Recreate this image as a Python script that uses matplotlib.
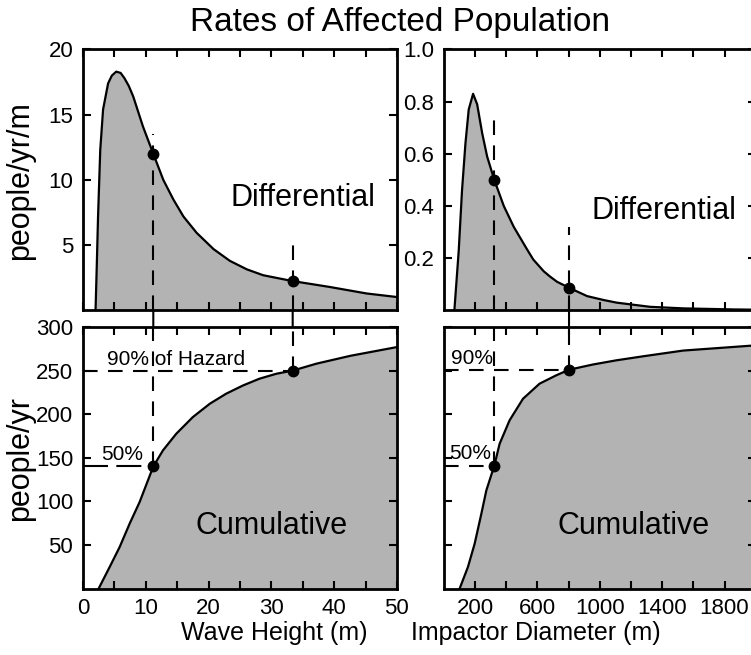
import matplotlib
matplotlib.use('Agg')
import matplotlib.pyplot as plt
from matplotlib.patches import ConnectionPatch

plt.rcParams['font.family'] = ['Liberation Sans', 'DejaVu Sans']

# wave height panel (left column)
wave_h = [2.0, 2.2, 2.4, 2.75, 3.2, 4.0, 4.6, 5.3, 6.0, 6.6, 7.3, 8.0, 9.55,
          11.2, 12.8, 14.4, 16.0, 18.1, 20.8, 23.4, 26.1, 28.7, 33.4, 36.7,
          39.3, 45.2, 50.0]
wave_diff = [0.0, 3.5, 7.2, 12.3, 15.4, 17.4, 18.0, 18.3, 18.2, 17.8, 17.2, 16.4, 14.1,
             12.0, 10.0, 8.5, 7.2, 5.95, 4.7, 3.8, 3.15, 2.7, 2.25, 2.0,
             1.8, 1.3, 1.03]
wave_cum_h = [2.5, 4.25, 5.84, 7.43, 9.02, 11.2, 12.74, 14.86, 17.5, 20.2, 22.8,
              25.5, 28.1, 30.8, 33.4, 37.2, 42.6, 50.0]
wave_cum = [0, 24.7, 47.6, 74.4, 99.2, 140, 158.5, 177.6, 196.7, 212, 223.5,
            233, 240.7, 246.4, 250, 258, 267, 277]
wave_marks = [11.2, 33.4]
wave_marks_diff = [12.0, 2.25]
wave_marks_cum = [140, 250]

# impactor diameter panel (right column)
imp_d = [68, 96, 117, 139, 160, 188, 214, 246, 278, 324, 385, 449, 534, 574, 641,
         681, 726, 803, 919, 1025, 1108, 1322, 1535, 1856, 2000]
imp_diff = [0, 0.23, 0.46, 0.64, 0.77, 0.83, 0.79, 0.68, 0.59, 0.50, 0.40, 0.32,
            0.234, 0.195, 0.15, 0.13, 0.11, 0.087, 0.055, 0.04, 0.03, 0.014,
            0.008, 0.004, 0.003]
imp_cum_d = [102, 155, 198, 241, 273, 324, 358, 422, 508, 614, 721, 803,
             956, 1106, 1277, 1535, 2000]
imp_cum = [0, 24.7, 51.4, 85.8, 112.6, 141, 166, 193, 217.7, 235, 244.6, 251,
           257, 261.8, 266.4, 273, 279]
imp_marks = [324, 803]
imp_marks_diff = [0.50, 0.087]
imp_marks_cum = [141, 251]

gray = '#b3b3b3'
dash = (7, 5)

fig = plt.figure(figsize=(7.51, 6.55), dpi=100)
ax_tl = fig.add_axes([0.1105, 0.5260, 0.4180, 0.3985])
ax_bl = fig.add_axes([0.1105, 0.1015, 0.4180, 0.3992])
ax_tr = fig.add_axes([0.5909, 0.5260, 0.4154, 0.3985])
ax_br = fig.add_axes([0.5909, 0.1015, 0.4154, 0.3992])


def style(ax):
    for s in ax.spines.values():
        s.set_linewidth(2)
    ax.tick_params(which='both', direction='in', top=True, right=True,
                   length=5.5, width=1.5, labelsize=16, pad=7)


def curve(ax, x, y):
    ax.fill_between(x, 0, y, color=gray, lw=0, zorder=1)
    ax.plot(x, y, color='k', lw=1.6, zorder=3, solid_joinstyle='round')


# top left
curve(ax_tl, wave_h, wave_diff)
ax_tl.plot([wave_marks[0]] * 2, [0, 13.5], color='k', lw=1.5, dashes=dash, zorder=2)
ax_tl.plot([wave_marks[1]] * 2, [0, 5.5], color='k', lw=1.5, dashes=dash, zorder=2)
ax_tl.plot(wave_marks, wave_marks_diff, 'o', color='k', ms=7.5, zorder=4)
ax_tl.set_xlim(0, 50)
ax_tl.set_ylim(0, 20)
ax_tl.set_xticks(range(0, 51, 10))
ax_tl.set_xticks(range(5, 50, 10), minor=True)
ax_tl.set_yticks([5, 10, 15, 20])
ax_tl.tick_params(labelbottom=False)
ax_tl.text(23.5, 8.0, 'Differential', fontsize=22, va='baseline')
style(ax_tl)

# bottom left
curve(ax_bl, wave_cum_h, wave_cum)
ax_bl.plot([0, wave_marks[0]], [wave_marks_cum[0]] * 2, color='k', lw=1.5, dashes=(12, 4), zorder=2)
ax_bl.plot([0, wave_marks[1]], [wave_marks_cum[1]] * 2, color='k', lw=1.5, dashes=dash, zorder=2)
ax_bl.plot([wave_marks[0]] * 2, [wave_marks_cum[0], 300], color='k', lw=1.5, dashes=dash, zorder=2)
ax_bl.plot([wave_marks[1]] * 2, [wave_marks_cum[1], 300], color='k', lw=1.5, dashes=dash, zorder=2)
ax_bl.plot(wave_marks, wave_marks_cum, 'o', color='k', ms=7.5, zorder=4)
ax_bl.text(3.9, 256, '90% of Hazard', fontsize=15, va='baseline')
ax_bl.text(2.95, 147, '50%', fontsize=15, va='baseline')
ax_bl.text(17.9, 63, 'Cumulative', fontsize=22, va='baseline')
ax_bl.set_xlim(0, 50)
ax_bl.set_ylim(0, 300)
ax_bl.set_xticks(range(0, 51, 10))
ax_bl.set_xticks(range(5, 50, 10), minor=True)
ax_bl.set_yticks(range(50, 301, 50))
ax_bl.text(0.61, -0.17, 'Wave Height (m)', transform=ax_bl.transAxes,
           fontsize=18, ha='center', va='center')
style(ax_bl)

# top right
curve(ax_tr, imp_d, imp_diff)
ax_tr.plot([imp_marks[0]] * 2, [0, 0.74], color='k', lw=1.5, dashes=dash, zorder=2)
ax_tr.plot([imp_marks[1]] * 2, [0, 0.32], color='k', lw=1.5, dashes=dash, zorder=2)
ax_tr.plot(imp_marks, imp_marks_diff, 'o', color='k', ms=7.5, zorder=4)
ax_tr.set_xlim(0, 2000)
ax_tr.set_ylim(0, 1.0)
ax_tr.set_xticks([200, 600, 1000, 1400, 1800])
ax_tr.set_xticks([400, 800, 1200, 1600], minor=True)
ax_tr.set_yticks([0.2, 0.4, 0.6, 0.8, 1.0])
ax_tr.tick_params(labelbottom=False)
ax_tr.text(950, 0.352, 'Differential', fontsize=22, va='baseline')
style(ax_tr)

# bottom right
curve(ax_br, imp_cum_d, imp_cum)
ax_br.plot([0, imp_marks[0]], [imp_marks_cum[0]] * 2, color='k', lw=1.5, dashes=dash, zorder=2)
ax_br.plot([0, imp_marks[1]], [imp_marks_cum[1]] * 2, color='k', lw=1.5, dashes=dash, zorder=2)
ax_br.plot([imp_marks[0]] * 2, [imp_marks_cum[0], 300], color='k', lw=1.5, dashes=dash, zorder=2)
ax_br.plot([imp_marks[1]] * 2, [imp_marks_cum[1], 300], color='k', lw=1.5, dashes=dash, zorder=2)
ax_br.plot(imp_marks, imp_marks_cum, 'o', color='k', ms=7.5, zorder=4)
ax_br.text(46, 257.5, '90%', fontsize=15, va='baseline')
ax_br.text(35, 149, '50%', fontsize=15, va='baseline')
ax_br.text(726, 62, 'Cumulative', fontsize=22, va='baseline')
ax_br.set_xlim(0, 2000)
ax_br.set_ylim(0, 300)
ax_br.set_xticks([200, 600, 1000, 1400, 1800])
ax_br.set_xticks([400, 800, 1200, 1600], minor=True)
ax_br.set_yticks(range(50, 301, 50))
ax_br.text(592, -0.17, 'Impactor Diameter (m)', transform=ax_br.get_xaxis_transform(),
           fontsize=18, ha='center', va='center')
style(ax_br)
ax_br.tick_params(labelleft=False)

# solid links through the gap between the rows
for x in wave_marks:
    fig.add_artist(ConnectionPatch(xyA=(x, 300), coordsA=ax_bl.transData,
                                   xyB=(x, 0), coordsB=ax_tl.transData, color='k', lw=1.5))
fig.add_artist(ConnectionPatch(xyA=(imp_marks[1], 300), coordsA=ax_br.transData,
                               xyB=(imp_marks[1], 0), coordsB=ax_tr.transData, color='k', lw=1.5))

fig.text(0.027, 0.725, 'people/yr/m', rotation=90, fontsize=22, ha='center', va='center')
fig.text(0.027, 0.30, 'people/yr', rotation=90, fontsize=22, ha='center', va='center')
fig.text(0.532, 0.965, 'Rates of Affected Population', fontsize=24, ha='center', va='center')

fig.savefig('out.png', dpi=100)
